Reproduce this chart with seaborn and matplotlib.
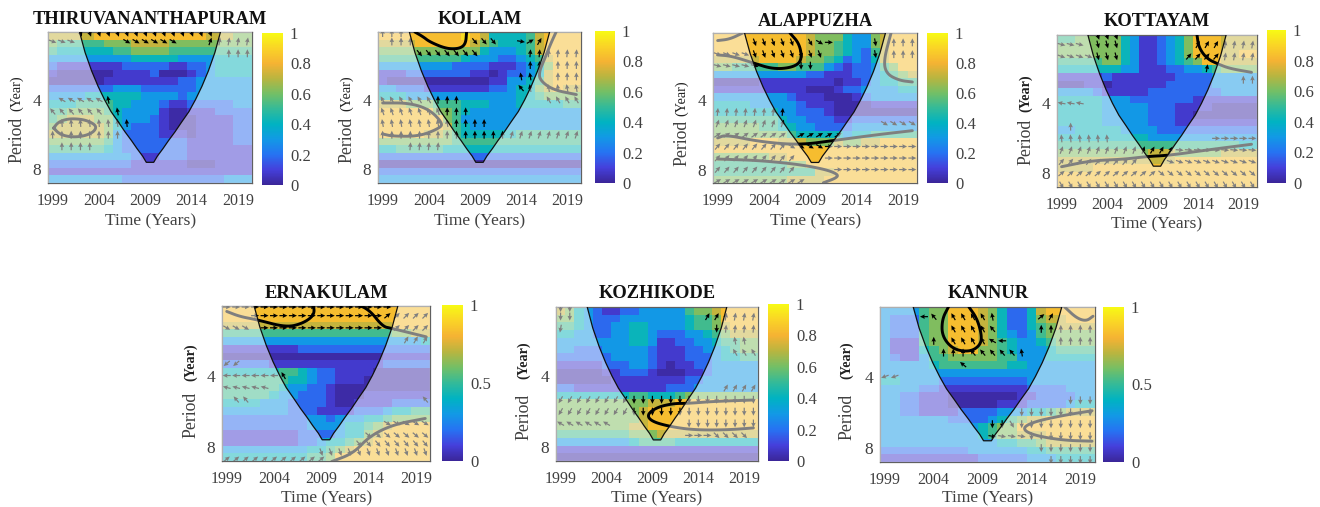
import numpy as np
import pandas as pd
import matplotlib.pyplot as plt
from matplotlib.colors import LinearSegmentedColormap
import seaborn as sns

W, H = 1320, 507
YEARS = list(range(1999, 2021))
TOP_P, BOTTOM_P = 2.04, 9.15
N_ROWS = 20

# coherence per cell as a digit, one string per period row; LEVELS gives the value of each digit
LEVELS = [0.02, 0.08, 0.18, 0.30, 0.42, 0.52, 0.62, 0.72, 0.83, 0.92]
THIRU = ["77777 88888 88888 88777 66", "65555 56667 77766 66666 66", "54444 44556 66655 55555 55",
         "33333 33334 44443 33344 44", "21111 11122 22211 22344 44", "10000 00111 12000 12344 44",
         "00000 01111 11112 23333 33", "22222 22333 22222 23333 33", "33334 44444 33332 33333 33",
         "44455 55443 33211 22222 33", "55666 65433 33100 11122 22", "56777 66433 32100 01111 22",
         "67777 76432 22100 01111 22", "77777 76322 22111 01111 22", "66666 65322 22222 11111 22",
         "55555 54322 22222 11111 11", "33333 33332 11222 11111 11", "22222 22221 11111 00011 11",
         "11111 11111 11111 11111 11", "33333 33322 22222 22223 33"]
KOLLAM = ["88888 88889 87444 45788 88", "77778 88888 76544 45788 88", "66666 66666 64333 45788 88",
          "55555 55554 33322 34578 88", "33333 33322 22111 23468 88", "11122 22222 11012 23478 88",
          "10000 00000 00113 34578 88", "33222 11111 11223 44678 77", "44433 33333 33333 44566 66",
          "77766 65554 44333 44444 55", "88888 86654 33333 33333 33", "88888 88653 33333 33333 33",
          "88888 88754 33333 33333 33", "88888 77654 44444 55555 55", "66666 66655 55555 55555 55",
          "44555 55444 44444 44444 44", "22222 22222 22222 22222 22", "00000 00000 00000 00000 00",
          "22222 22222 22222 22222 22", "33333 33333 33333 33333 33"]
ALAPPUZHA = ["88888 88888 76664 33678 88", "88888 88888 76654 33678 88", "88888 88888 76654 32578 88",
             "77777 88887 66542 32478 88", "66555 55665 55321 22356 88", "33333 33333 22111 22345 67",
             "00000 11111 11101 12344 55", "11111 11111 00012 23333 44", "33333 33321 11000 12333 33",
             "44443 33332 11100 00111 11", "44444 44332 22100 00000 00", "55555 55433 22211 22222 22",
             "66666 55443 32222 33333 33", "66666 66654 44443 44555 55", "77778 88777 66676 67788 88",
             "88888 88888 88888 88888 88", "66666 67788 88888 88888 88", "55555 55566 88888 88888 88",
             "55555 55555 57788 88888 88", "66666 66677 77888 88888 88"]
KOTTAYAM = ["55666 66431 12346 88877 77", "66666 66431 12346 88877 77", "66666 66431 12346 88877 88",
            "55555 66431 12345 68877 77", "44444 44331 11223 34566 66", "11111 21111 11122 22333 33",
            "00011 01111 11222 22333 33", "33332 11111 22222 22233 33", "44444 33322 22222 11111 11",
            "44444 33333 22211 11000 00", "44444 33333 22211 00000 00", "44444 33333 22211 11111 11",
            "33444 44333 32222 22222 22", "44444 44444 33333 33333 33", "55555 55555 55555 55555 44",
            "66666 66666 77766 66677 77", "77777 77777 77788 88888 88", "77778 88888 88888 88888 88",
            "88888 88888 88888 88888 88", "88888 88888 88888 88888 88"]
ERNAKULAM = ["88888 88888 88888 88888 88", "88888 88888 88888 88888 88", "77777 77777 77777 77788 88",
             "55555 55555 55555 55566 77", "33333 33333 33333 33333 34", "11111 11122 22222 22222 22",
             "00000 00000 00000 00111 11", "22222 11111 11111 11222 22", "44444 45543 22111 10000 00",
             "55555 55443 22111 00000 00", "55555 54332 21000 00000 00", "55555 43322 21000 11111 11",
             "44443 33222 21001 11122 22", "33333 33222 11112 22344 55", "22222 22223 32333 44566 66",
             "22222 22223 33344 56788 88", "11111 11122 22344 67888 88", "11111 11122 34456 78888 88",
             "33333 33334 45678 88888 88", "44444 44445 56888 88888 88"]
KOZHIKODE = ["76432 11223 33335 66788 88", "66432 22333 33334 55688 88", "55432 23344 33334 55678 88",
             "44332 23344 32223 34567 77", "33333 33344 31122 33455 66", "33222 33333 21112 23345 66",
             "22222 23333 21112 22344 55", "11111 22233 21011 22333 33", "00000 11222 10001 12333 33",
             "00000 01111 11112 23333 33", "22111 11111 11222 33333 33", "44444 44455 44456 66666 66",
             "66666 66666 77788 88888 88", "66666 66667 88888 88888 88", "66666 66667 88888 88888 88",
             "66666 66677 88888 88888 88", "55555 55566 67777 77777 77", "33333 33345 55544 44444 44",
             "11111 11111 11111 11111 11", "00000 00000 00000 00000 00"]
KANNUR = ["33335 66888 76422 47888 88", "32225 66888 76422 46778 88", "32225 66888 76422 45677 77",
          "32225 66888 76432 35666 66", "31115 66888 76543 34566 66", "31114 56788 66543 33455 55",
          "32113 55666 66553 33444 44", "33333 45555 55544 33333 33", "33333 33333 33333 33333 33",
          "44333 32222 22222 33333 33", "33332 21111 11111 22223 33", "33221 11000 00001 12222 33",
          "33221 11000 00111 22223 44", "33221 11122 22333 44567 77", "33333 33222 23456 77888 88",
          "33333 33333 45668 88888 88", "33333 33333 45667 77888 88", "33333 33333 33445 56777 77",
          "22222 22223 33333 44555 55", "11111 11111 22222 33344 44"]

# significance contours as (year, period)
THIRU_LINES = [[(1999.1, 5.3), (1999.6, 5.0), (2000.5, 4.85), (2001.5, 4.83), (2002.6, 4.9), (2003.5, 5.1),
                (2003.7, 5.3), (2003.3, 5.55), (2002.3, 5.75), (2001, 5.8), (1999.8, 5.65), (1999.1, 5.3)]]
KOLLAM_LINES = [[(2002.5, 2.04), (2003.4, 2.14), (2004.1, 2.25), (2005.9, 2.41), (2007.3, 2.41), (2008, 2.3), (2008.1, 2.04)],
                [(2017.8, 2.04), (2017.2, 2.3), (2016.5, 2.7), (2016, 3.0), (2016, 3.28), (2017.4, 3.62), (2020, 3.8)],
                [(1999, 4.13), (2001.9, 4.13), (2004.1, 4.41), (2005.5, 5.05), (2005.2, 5.3), (2003, 5.75), (2000.1, 5.75), (1999, 5.62)]]
ALAPPUZHA_LINES = [[(1999, 2.54), (2000.5, 2.57), (2002.8, 2.75), (2005, 2.93), (2007.1, 2.88), (2008.1, 2.69), (2007.85, 2.28), (2006.8, 2.04)],
                   [(1999, 2.2), (2000.3, 2.17), (2001.7, 2.04)],
                   [(2017.7, 2.04), (2016.9, 2.69), (2017.2, 3.07), (2018.6, 3.28), (2020, 3.33)],
                   [(1999, 5.83), (1999.9, 5.65), (2003.5, 6.05), (2007.8, 6.26), (2011.8, 5.96), (2016.1, 5.65), (2020, 5.42)],
                   [(1999, 7.2), (2003.5, 7.3), (2007.8, 7.6), (2010.7, 8.0), (2012, 8.4), (2011.8, 8.7), (2010.4, 9.13)]]
KOTTAYAM_LINES = [[(2013.9, 2.04), (2014.1, 2.31), (2015, 2.58), (2016.25, 2.72), (2017.5, 2.84), (2019.9, 2.95)],
                  [(1999, 7.49), (2002.2, 7.06), (2005.8, 6.96), (2008.4, 6.77), (2010.9, 6.69), (2015, 6.35), (2019.9, 6.0)]]
ERNAKULAM_LINES = [[(1999, 2.15), (2000.4, 2.26), (2002.2, 2.33), (2005.3, 2.51), (2007.1, 2.41), (2008.3, 2.22), (2008.15, 2.0)],
                   [(2012.7, 2.0), (2014.1, 2.12), (2015.5, 2.49), (2016.4, 2.53), (2020.1, 2.75)],
                   [(2010.1, 9.2), (2012.4, 8.49), (2014.1, 7.2), (2016.6, 6.43), (2020, 6.06)]]
KOZHIKODE_LINES = [[(2020, 5.05), (2015.6, 5.12), (2012.9, 5.22), (2011.3, 5.22), (2009.5, 5.42), (2008.4, 5.82),
                    (2008.9, 6.22), (2010.9, 6.54), (2013.5, 6.76), (2017.1, 6.76), (2020, 6.63)]]
KANNUR_LINES = [[(2005.5, 2.04), (2004.85, 2.3), (2004.85, 2.71), (2006, 3.08), (2007.75, 3.15), (2008.8, 2.94),
                 (2008.9, 2.66), (2008.4, 2.27), (2007.6, 2.04)],
                [(2017.4, 2.04), (2018.6, 2.27), (2019.6, 2.34), (2020.3, 2.23)],
                [(2020.2, 5.57), (2017.3, 5.82), (2014.2, 6.2), (2013, 6.62), (2014.2, 7.07), (2017.3, 7.42), (2020.2, 7.48)]]

# phase arrows as runs: (period, first year, last year, angle in degrees)
THIRU_ARROWS = [(2.06, 2002, 2016, -70), (2.24, 1999, 2001, -20), (2.24, 2007, 2012, -30), (2.24, 2016, 2016, 70),
                (2.24, 2017, 2020, 80), (2.52, 2018, 2020, 90), (4, 2000, 2004, 150), (4, 2005, 2005, 100),
                (4.49, 1999, 2004, 130), (4.49, 2006, 2006, 100), (5.04, 2000, 2007, 95), (5.66, 1999, 2006, 90),
                (6.35, 2000, 2003, 90)]
KOLLAM_ARROWS = [(2.06, 1999, 2001, 90), (2.24, 2000, 2002, 90), (2.24, 2009, 2011, -50), (2.24, 2014, 2014, -10),
                 (2.24, 2015, 2015, 30), (2.24, 2016, 2016, 60), (2.52, 2003, 2009, -50), (2.52, 2015, 2020, 85),
                 (2.83, 2015, 2016, 90), (2.83, 2018, 2020, 90), (3.17, 2014, 2015, 100), (3.17, 2018, 2020, 90),
                 (3.56, 2014, 2014, 130), (3.56, 2015, 2015, 100), (3.56, 2017, 2020, 100), (4, 1999, 2004, 120),
                 (4, 2005, 2007, 90), (4, 2017, 2020, 120), (4.49, 1999, 2005, 110), (4.49, 2006, 2008, 90),
                 (5.04, 1999, 2006, 100), (5.04, 2007, 2010, 90), (5.66, 1999, 2012, 90), (5.66, 2013, 2020, 72),
                 (6.35, 2002, 2005, 85)]
ALAPPUZHA_ARROWS = [(2.24, 2003, 2007, -70), (2.24, 2009, 2009, -60), (2.24, 2010, 2010, -30), (2.24, 2011, 2011, 0),
                    (2.24, 2016, 2016, -80), (2.24, 2018, 2020, 90), (2.52, 1999, 2002, -20), (2.52, 2003, 2010, -70),
                    (2.52, 2016, 2016, -80), (2.52, 2018, 2020, 90), (2.83, 1999, 2003, -15), (2.83, 2008, 2009, -90),
                    (4.49, 1999, 2006, 85), (5.04, 1999, 2006, 70), (5.04, 2017, 2020, -30), (5.66, 1999, 2006, 35),
                    (5.66, 2008, 2012, 30), (6.35, 1999, 2006, 50), (6.35, 2007, 2010, -30), (6.35, 2011, 2020, 0),
                    (7.13, 1999, 2007, 50), (7.13, 2011, 2020, 0), (8, 1999, 2007, 50), (8, 2012, 2020, 0),
                    (8.98, 1999, 2008, 30)]
KOTTAYAM_ARROWS = [(2.06, 2003, 2005, -70), (2.24, 1999, 2001, -15), (2.24, 2003, 2005, -75), (2.24, 2014, 2016, 60),
                   (2.24, 2017, 2020, 80), (2.52, 1999, 2002, -20), (2.52, 2003, 2005, -75), (2.52, 2013, 2016, 50),
                   (2.52, 2017, 2020, 80), (2.83, 2015, 2015, 80), (3.17, 2019, 2020, 90), (4, 1999, 2001, 170),
                   (5.04, 2000, 2000, 90), (5.66, 1999, 2004, 95), (5.66, 2016, 2020, 0), (6.35, 1999, 2008, 70),
                   (6.35, 2009, 2011, 60), (6.35, 2012, 2020, -5), (7.13, 1999, 2007, 50), (7.13, 2011, 2020, -20),
                   (8, 1999, 2009, 40), (8, 2010, 2020, -40), (8.98, 1999, 2020, -60)]
ERNAKULAM_ARROWS = [(2.06, 1999, 2016, 0), (2.24, 2002, 2015, 0), (2.24, 2016, 2016, 40), (2.24, 2017, 2020, 45),
                    (2.52, 1999, 2001, -30), (2.52, 2003, 2015, 0), (2.52, 2017, 2020, 45), (2.83, 2018, 2020, 60),
                    (3.56, 1999, 2000, 220), (4, 1999, 2004, 180), (4, 2005, 2005, 120), (4.49, 1999, 2003, 165),
                    (5.04, 2000, 2001, 130), (5.04, 2020, 2020, 130), (6.35, 2016, 2020, -30), (7.13, 2014, 2020, -40),
                    (7.74, 2013, 2020, -50), (8.4, 2009, 2020, -70), (8.98, 1999, 2009, 40)]
KOZHIKODE_ARROWS = [(2.06, 1999, 2000, -90), (2.24, 1999, 2000, -90), (2.52, 1999, 1999, -100), (2.24, 2015, 2016, 60),
                    (2.24, 2017, 2020, 80), (2.52, 2016, 2016, -90), (2.52, 2017, 2020, 85), (2.83, 2018, 2019, 100),
                    (3.17, 2018, 2020, 120), (4.49, 2017, 2020, 60), (5.04, 1999, 2006, -120), (5.04, 2007, 2020, -90),
                    (5.66, 1999, 2006, -120), (5.66, 2007, 2020, -90), (6.35, 1999, 2004, 150), (6.35, 2013, 2020, -90),
                    (7.13, 2013, 2015, 0), (7.13, 2016, 2019, -45)]
KANNUR_ARROWS = [(2.24, 2003, 2003, 180), (2.24, 2004, 2004, 130), (2.24, 2006, 2009, 120), (2.24, 2010, 2010, 100),
                 (2.24, 2015, 2015, 40), (2.24, 2016, 2016, 60), (2.52, 2006, 2009, 120), (2.52, 2010, 2010, 130),
                 (2.52, 2015, 2020, 90), (2.83, 2004, 2004, 90), (2.83, 2006, 2009, 120), (2.83, 2010, 2010, 150),
                 (2.83, 2011, 2011, 180), (2.83, 2017, 2020, 90), (3.17, 2005, 2007, 90), (3.17, 2008, 2012, 130),
                 (3.17, 2013, 2013, 100), (3.56, 2007, 2007, 140), (4, 1999, 2000, 200), (5.04, 2018, 2020, -90),
                 (5.66, 2013, 2020, -90), (6.35, 2010, 2011, -90), (6.35, 2012, 2012, -60), (6.35, 2013, 2020, -90),
                 (7.13, 2010, 2013, -10), (7.13, 2014, 2020, -90), (8, 2015, 2020, -90), (8.98, 2016, 2020, -90)]

# cone of influence
CONE_PERIOD = [2.04, 2.5, 3, 3.5, 4, 4.5, 5, 5.5, 6, 6.5, 7, 7.45]
CONE_LEFT = [2001.9, 2002.5, 2003.2, 2003.9, 2004.6, 2005.3, 2006.1, 2006.8, 2007.5, 2008.1, 2008.7, 2009.1]
CONE_RIGHT = [2017.1, 2016.5, 2015.8, 2015.1, 2014.4, 2013.7, 2012.9, 2012.2, 2011.5, 2010.9, 2010.3, 2009.9]

parula = LinearSegmentedColormap.from_list("parula", [
    (0.0, (0.23, 0.15, 0.60)), (0.1, (0.27, 0.25, 0.86)), (0.2, (0.15, 0.45, 0.95)),
    (0.3, (0.07, 0.60, 0.90)), (0.4, (0.0, 0.70, 0.76)), (0.5, (0.20, 0.73, 0.60)),
    (0.6, (0.45, 0.75, 0.40)), (0.7, (0.72, 0.71, 0.25)), (0.8, (0.96, 0.70, 0.20)),
    (0.9, (0.98, 0.83, 0.15)), (1.0, (0.97, 0.98, 0.08))])


def row_of(p):
    return N_ROWS * (np.log2(p) - np.log2(TOP_P)) / (np.log2(BOTTOM_P) - np.log2(TOP_P))


def col_of(year):
    return np.asarray(year) - YEARS[0] + 0.5


def px_axes(x0, y0, x1, y1):
    return [x0 / W, 1 - y1 / H, (x1 - x0) / W, (y1 - y0) / H]


def rounded(xs, ys):
    # corner cutting so the contours draw as curves, not polylines
    pts = np.column_stack([xs, ys])
    for _ in range(3):
        q = pts[:-1] * 0.75 + pts[1:] * 0.25
        r = pts[:-1] * 0.25 + pts[1:] * 0.75
        mid = np.empty((2 * len(q), 2))
        mid[0::2] = q
        mid[1::2] = r
        pts = np.vstack([pts[0], mid, pts[-1]])
    return pts[:, 0], pts[:, 1]


sns.set_theme(style="white")
plt.rcParams["font.family"] = ["Liberation Serif", "DejaVu Serif"]
GREY = "#404040"

# name, rows, lines, arrows, axes box, colorbar box, cbar ticks, title xy, xlabel xy, ylabel x, period y, year y, bold
panels = [
    ("THIRUVANANTHAPURAM", THIRU, THIRU_LINES, THIRU_ARROWS, (48, 32, 252, 183), (262, 33, 283, 185), 0.2, (150, 20), (151, 221), 17, 140, 93, False),
    ("KOLLAM", KOLLAM, KOLLAM_LINES, KOLLAM_ARROWS, (378, 32, 581, 183), (595, 31, 615, 183), 0.2, (480, 20), (480, 221), 347, 140, 93, False),
    ("ALAPPUZHA", ALAPPUZHA, ALAPPUZHA_LINES, ALAPPUZHA_ARROWS, (713, 33, 917, 183), (927, 33, 948, 183), 0.2, (815, 21), (816, 221), 682, 143, 98, False),
    ("KOTTAYAM", KOTTAYAM, KOTTAYAM_LINES, KOTTAYAM_ARROWS, (1057, 35, 1257, 187), (1267, 30, 1286, 183), 0.2, (1157, 22), (1157, 224), 1026, 142, 93, True),
    ("ERNAKULAM", ERNAKULAM, ERNAKULAM_LINES, ERNAKULAM_ARROWS, (222, 306, 430, 461), (442, 305, 463, 461), 0.5, (326, 293), (327, 498), 191, 415, 362, True),
    ("KOZHIKODE", KOZHIKODE, KOZHIKODE_LINES, KOZHIKODE_ARROWS, (556, 307, 758, 461), (768, 304, 789, 461), 0.2, (657, 293), (657, 498), 524, 417, 360, True),
    ("KANNUR", KANNUR, KANNUR_LINES, KANNUR_ARROWS, (880, 307, 1095, 462), (1103, 307, 1124, 462), 0.5, (988, 294), (988, 498), 847, 417, 360, True),
]

fig = plt.figure(figsize=(W / 100, H / 100), dpi=100)

for name, rows, lines, arrows, box, cbox, step, title_xy, xlab_xy, ylab_x, per_y, year_y, bold in panels:
    ax = fig.add_axes(px_axes(*box))
    cax = fig.add_axes(px_axes(*cbox))
    vals = np.array([[LEVELS[int(c)] for c in r.replace(" ", "")] for r in rows])
    df = pd.DataFrame(vals, columns=YEARS)
    sns.heatmap(df, ax=ax, cbar_ax=cax, cmap=parula, vmin=0, vmax=1, xticklabels=False, yticklabels=False,
                cbar_kws={"ticks": np.arange(0, 1.01, step)})
    cax.set_yticklabels([f"{t:g}" for t in np.arange(0, 1.01, step)], fontsize=12, color=GREY)
    cax.tick_params(length=0, pad=5)
    for s in cax.spines.values():
        s.set_visible(False)

    for line in lines:
        xs, ps = zip(*line)
        cx, cy = rounded(col_of(xs), row_of(np.array(ps)))
        ax.plot(cx, cy, color="black", lw=2.1, zorder=3, solid_capstyle="round")

    ax_x, ax_y, ax_u, ax_v = [], [], [], []
    for p, y0, y1, ang in arrows:
        for yr in range(y0, y1 + 1):
            ax_x.append(col_of(yr))
            ax_y.append(row_of(p))
            ax_u.append(np.cos(np.radians(ang)))
            ax_v.append(np.sin(np.radians(ang)))
    ax.quiver(ax_x, ax_y, ax_u, ax_v, angles="uv", pivot="middle", scale_units="inches", scale=1 / 0.08,
              units="inches", width=0.012, headwidth=3.8, headlength=4, headaxislength=3.6,
              color="black", zorder=3)

    # pale veil outside the cone of influence
    left = col_of(CONE_LEFT)
    right = col_of(CONE_RIGHT)
    rws = row_of(np.array(CONE_PERIOD))
    out_x = [0] + list(left) + list(right[::-1]) + [22, 22, 0]
    out_y = [0] + list(rws) + list(rws[::-1]) + [0, N_ROWS, N_ROWS]
    ax.fill(out_x, out_y, color="white", alpha=0.5, lw=0, zorder=4)
    ax.plot(list(left) + list(right[::-1]), list(rws) + list(rws[::-1]), color="#101010", lw=0.9, zorder=5)

    ax.set_xlim(0, 22)
    ax.set_ylim(N_ROWS, 0)
    ax.set_xticks(col_of([1999, 2004, 2009, 2014, 2019]))
    ax.set_xticklabels(["1999", "2004", "2009", "2014", "2019"], fontsize=11.5, color=GREY)
    ax.set_yticks(row_of(np.array([4, 8])))
    ax.set_yticklabels(["4", "8"], fontsize=12.5, color=GREY)
    ax.tick_params(axis="x", direction="in", length=2.5, width=0.7, color=GREY, pad=7, bottom=True, top=False)
    ax.tick_params(axis="y", direction="in", length=2.5, width=0.7, color=GREY, pad=5, left=True, right=True)
    for s in ax.spines.values():
        s.set_visible(True)
        s.set_color("#606060")
        s.set_linewidth(0.9)

    fig.text(title_xy[0] / W, 1 - title_xy[1] / H, name, fontsize=13.3, fontweight="bold", color="#111111",
             ha="center", va="center")
    fig.text(xlab_xy[0] / W, 1 - xlab_xy[1] / H, "Time (Years)", fontsize=12.6, color=GREY, ha="center", va="center")
    fig.text(ylab_x / W, 1 - per_y / H, "Period", fontsize=12.8, color=GREY, rotation=90, ha="center", va="center")
    fig.text(ylab_x / W, 1 - year_y / H, "(Year)", fontsize=10.2, color="#222222", rotation=90, ha="center", va="center",
             fontweight="bold" if bold else "normal")

fig.savefig("out.png", dpi=100)
